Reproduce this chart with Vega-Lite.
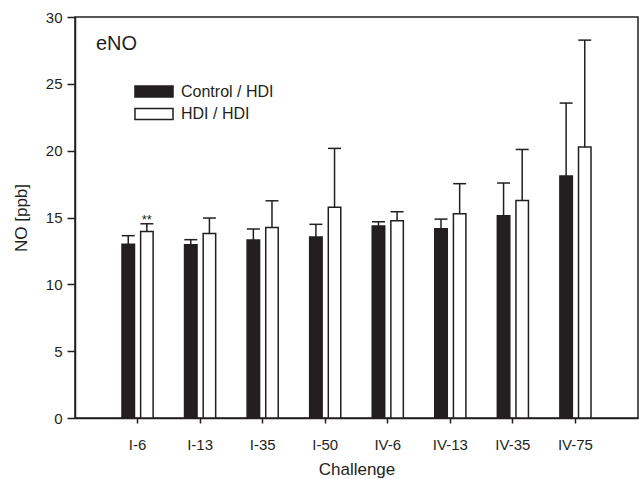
{
  "$schema": "https://vega.github.io/schema/vega-lite/v6.json",
  "width": 563,
  "height": 401,
  "autosize": {"type": "none"},
  "padding": {"left": 75, "top": 17, "right": 2, "bottom": 61},
  "background": "white",
  "config": {
    "font": "Liberation Sans",
    "view": {"stroke": "#231f20", "strokeWidth": 1.5}
  },
  "title": {
    "text": "eNO",
    "anchor": "start",
    "frame": "group",
    "orient": "top",
    "fontSize": 20,
    "fontWeight": "normal",
    "color": "#231f20",
    "baseline": "top",
    "offset": 0,
    "dx": 21,
    "dy": 44
  },
  "data": {
    "values": [
      {"challenge": "I-6", "group": "Control / HDI", "mean": 13.0, "upper": 13.64},
      {"challenge": "I-6", "group": "HDI / HDI", "mean": 13.96, "upper": 14.53, "sig": "**"},
      {"challenge": "I-13", "group": "Control / HDI", "mean": 12.96, "upper": 13.34},
      {"challenge": "I-13", "group": "HDI / HDI", "mean": 13.81, "upper": 14.96},
      {"challenge": "I-35", "group": "Control / HDI", "mean": 13.31, "upper": 14.14},
      {"challenge": "I-35", "group": "HDI / HDI", "mean": 14.26, "upper": 16.25},
      {"challenge": "I-50", "group": "Control / HDI", "mean": 13.54, "upper": 14.49},
      {"challenge": "I-50", "group": "HDI / HDI", "mean": 15.76, "upper": 20.17},
      {"challenge": "IV-6", "group": "Control / HDI", "mean": 14.36, "upper": 14.68},
      {"challenge": "IV-6", "group": "HDI / HDI", "mean": 14.76, "upper": 15.43},
      {"challenge": "IV-13", "group": "Control / HDI", "mean": 14.16, "upper": 14.88},
      {"challenge": "IV-13", "group": "HDI / HDI", "mean": 15.28, "upper": 17.53},
      {"challenge": "IV-35", "group": "Control / HDI", "mean": 15.13, "upper": 17.58},
      {"challenge": "IV-35", "group": "HDI / HDI", "mean": 16.28, "upper": 20.09},
      {"challenge": "IV-75", "group": "Control / HDI", "mean": 18.1, "upper": 23.56},
      {"challenge": "IV-75", "group": "HDI / HDI", "mean": 20.27, "upper": 28.27}
    ]
  },
  "encoding": {
    "x": {
      "field": "challenge",
      "type": "nominal",
      "sort": ["I-6", "I-13", "I-35", "I-50", "IV-6", "IV-13", "IV-35", "IV-75"],
      "scale": {"paddingInner": 0.3, "paddingOuter": 0.65},
      "axis": {
        "title": "Challenge",
        "titleFontSize": 17,
        "titleFontWeight": "normal",
        "titleColor": "#231f20",
        "titlePadding": 9,
        "labelFontSize": 15,
        "labelColor": "#231f20",
        "labelAngle": 0,
        "labelPadding": 14,
        "tickSize": 5,
        "tickWidth": 1.5,
        "tickColor": "#231f20",
        "domainColor": "#231f20",
        "domainWidth": 1.5
      }
    },
    "xOffset": {
      "field": "group",
      "type": "nominal",
      "sort": ["Control / HDI", "HDI / HDI"],
      "scale": {"paddingInner": 0.33, "paddingOuter": 0.34}
    }
  },
  "layer": [
    {
      "mark": {"type": "bar", "stroke": "#231f20", "strokeWidth": 1.5},
      "encoding": {
        "y": {
          "field": "mean",
          "type": "quantitative",
          "scale": {"domain": [0, 30], "nice": false},
          "axis": {
            "title": "NO [ppb]",
            "titleFontSize": 17,
            "titleFontWeight": "normal",
            "titleColor": "#231f20",
            "titlePadding": 15,
            "values": [0, 2.5, 5, 7.5, 10, 12.5, 15, 17.5, 20, 22.5, 25, 27.5, 30],
            "labelExpr": "datum.value % 5 === 0 ? datum.label : ''",
            "labelFontSize": 15,
            "labelColor": "#231f20",
            "labelPadding": 5,
            "tickSize": {"condition": {"test": "datum.value % 5 === 0", "value": 8}, "value": 4},
            "tickWidth": 1.5,
            "tickColor": "#231f20",
            "domainColor": "#231f20",
            "domainWidth": 1.5,
            "grid": false
          }
        },
        "fill": {
          "field": "group",
          "type": "nominal",
          "scale": {"domain": ["Control / HDI", "HDI / HDI"], "range": ["#231f20", "#ffffff"]},
          "legend": {
            "title": null,
            "orient": "none",
            "legendX": 71,
            "legendY": 66.5,
            "padding": 0,
            "symbolType": "M-3.17,-0.92L3.17,-0.92L3.17,0.92L-3.17,0.92Z",
            "symbolSize": 144,
            "symbolStrokeColor": "#231f20",
            "symbolStrokeWidth": 1.5,
            "symbolOpacity": 1,
            "labelOffset": 19,
            "labelFontSize": 16,
            "labelColor": "#231f20",
            "rowPadding": 4.5
          }
        }
      }
    },
    {
      "mark": {"type": "rule", "stroke": "#231f20", "strokeWidth": 1.5},
      "encoding": {
        "y": {"field": "mean", "type": "quantitative"},
        "y2": {"field": "upper"}
      }
    },
    {
      "mark": {"type": "tick", "orient": "horizontal", "size": 13, "thickness": 1.5, "color": "#231f20", "opacity": 1},
      "encoding": {
        "y": {"field": "upper", "type": "quantitative"}
      }
    },
    {
      "transform": [{"filter": "datum.sig"}],
      "mark": {"type": "text", "dy": -4, "fontSize": 13, "color": "#231f20"},
      "encoding": {
        "y": {"field": "upper", "type": "quantitative"},
        "text": {"field": "sig"}
      }
    }
  ]
}
